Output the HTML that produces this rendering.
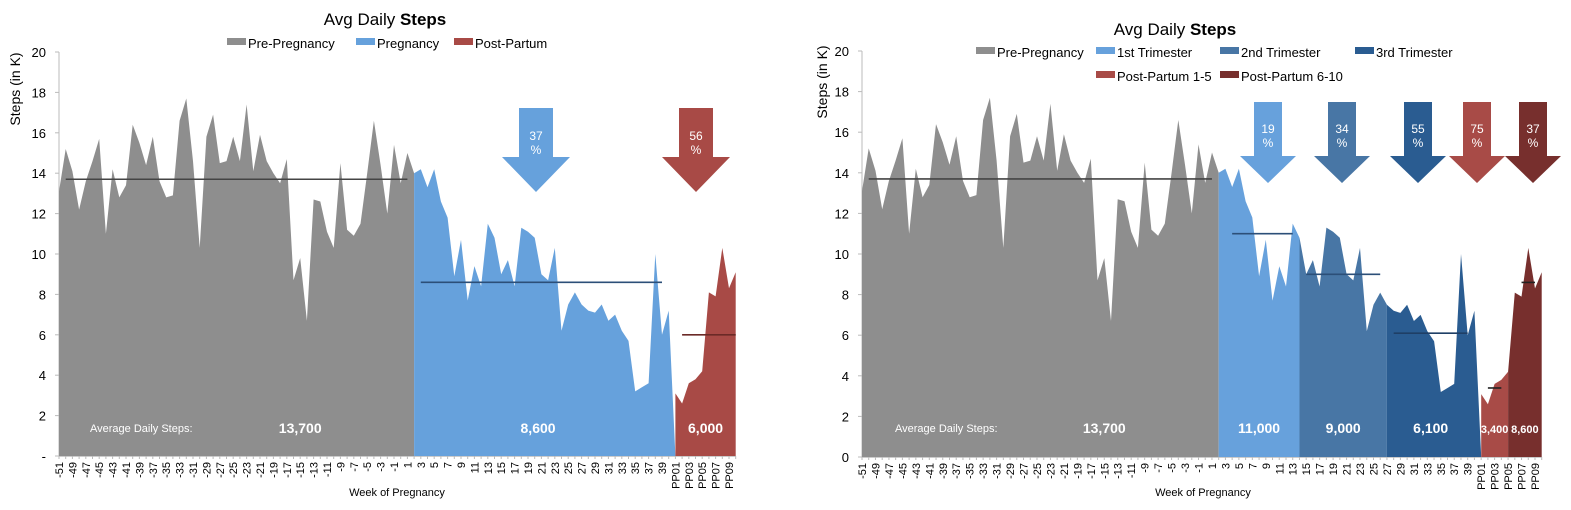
<!DOCTYPE html>
<html><head><meta charset="utf-8"><style>
body{margin:0;background:#fff;}
svg{display:block;font-family:"Liberation Sans",Arial,sans-serif;}
</style></head><body>
<svg id="c" width="1571" height="510" viewBox="0 0 1571 510" xmlns="http://www.w3.org/2000/svg"></svg>
<script>
// ---- data ----
const categories = [];
for (let w = -51; w <= 0; w++) categories.push(String(w));
for (let w = 1; w <= 40; w++) categories.push(String(w));
for (let p = 1; p <= 10; p++) categories.push('PP' + (p < 10 ? '0' + p : p));
const steps = [
 13.1,15.2,14.1,12.2,13.6,14.6,15.7,11.0,14.2,12.8,
 13.4,16.4,15.5,14.4,15.8,13.6,12.8,12.9,16.6,17.7,
 14.6,10.3,15.8,16.9,14.5,14.6,15.8,14.6,17.4,14.1,
 15.9,14.6,14.0,13.5,14.7,8.7,9.8,6.7,12.7,12.6,
 11.1,10.3,14.5,11.2,10.9,11.5,14.0,16.6,14.4,12.0,
 15.4,13.5,15.0,14.0,
 14.2,13.3,14.2,12.6,11.8,8.9,10.7,7.7,9.4,8.4,
 11.5,10.8,9.0,9.7,8.4,11.3,11.1,10.8,9.0,8.7,
 10.3,6.2,7.5,8.1,7.5,7.2,7.1,7.5,6.7,7.0,
 6.2,5.7,3.2,3.4,3.6,10.0,6.0,7.2,
 3.1,2.6,3.6,3.8,4.2,8.1,7.9,10.3,8.3,9.1
];
const yTicks = [0,2,4,6,8,10,12,14,16,18,20];
const leftNames = ['Pre-Pregnancy','Pregnancy','Post-Partum'];
const leftAvgs = [13.7, 8.6, 6.0];
const leftDrops = [37, 56];
const rightNames = ['Pre-Pregnancy','1st Trimester','2nd Trimester','3rd Trimester','Post-Partum 1-5','Post-Partum 6-10'];
const rightAvgs = [13.7, 11.0, 9.0, 6.1, 3.4, 8.6];
const rightDrops = [19, 34, 55, 75, 37];

// ---- layout ----
const svg = document.getElementById('c');
const NS = 'http://www.w3.org/2000/svg';
function mk(tag, attrs, parent, text) {
  const e = document.createElementNS(NS, tag);
  for (const k in attrs) e.setAttribute(k, attrs[k]);
  if (text !== undefined) e.textContent = text;
  (parent || svg).appendChild(e);
  return e;
}
function fmt(v){ return Math.round(v*1000).toLocaleString('en-US'); }

function chart(cfg) {
  const g = mk('g', {});
  
  
  const x = i => cfg.x0 + i * cfg.step;
  const y = v => cfg.yBase - v * (cfg.yBase - cfg.yTop) / 20;
  // title
  const t = mk('text', {x: cfg.titleX, y: cfg.titleY, 'font-size': 17, 'text-anchor': 'middle', fill: '#000'}, g);
  
  
  mk('tspan', {}, t, 'Avg Daily ');
  mk('tspan', {'font-weight': 'bold'}, t, 'Steps');
  // legend
  cfg.legend.forEach((L, k) => {
    const lg = mk('g', {}, g);
    
    
    mk('rect', {x: L.x, y: L.y - 10, width: 19, height: 7, fill: cfg.colors[k]}, lg);
    mk('text', {x: L.x + 21, y: L.y, 'font-size': 13, fill: '#000'}, lg, cfg.names[k]);
  });
  // y axis
  const ya = mk('g', {}, g);
  
  
  mk('line', {x1: cfg.axisX, y1: y(20), x2: cfg.axisX, y2: y(0), stroke: '#bbb'}, ya);
  yTicks.forEach(v => {
    mk('line', {x1: cfg.axisX - 4, y1: y(v), x2: cfg.axisX, y2: y(v), stroke: '#bbb'}, ya);
    const lab = (v === 0 && cfg.zeroDash) ? '-' : String(v);
    const tl = mk('text', {x: cfg.axisX - 13, y: y(v) + 5, 'font-size': 13, 'text-anchor': 'end', fill: '#000'}, ya, lab);
    
    
  });
  const yt = mk('text', {x: 0, y: 0, 'font-size': 14, 'text-anchor': 'middle', transform: `translate(${cfg.yTitleX},${cfg.yTitleY}) rotate(-90)`}, g, 'Steps (in K)');
  
  
  // areas
  cfg.segs.forEach((s, k) => {
    let pts = [[x(s[0]), y(0)]];
    for (let i = s[0]; i <= s[1]; i++) pts.push([x(i), y(steps[i])]);
    pts.push([s[2] ? x(s[1] + 1) : x(s[1]), y(0)]);
    const p = mk('polygon', {points: pts.map(q => q[0].toFixed(1) + ',' + q[1].toFixed(1)).join(' '), fill: cfg.colors[k]}, g);
    
    
  });
  // avg lines
  cfg.avgSpans.forEach((sp, k) => {
    const l = mk('line', {x1: x(sp[0]), y1: y(cfg.avgs[k]), x2: x(sp[1]), y2: y(cfg.avgs[k]), stroke: cfg.avgColors[k], 'stroke-width': 1.6}, g);
    
    
  });
  // avg labels
  const al = mk('text', {x: cfg.avgLabelX, y: 432, 'font-size': 11, fill: '#fff'}, g, 'Average Daily Steps:');
  
  
  cfg.avgLabelPos.forEach((p, k) => {
    const tv = mk('text', {x: x(p), y: 433, 'font-size': cfg.avgFont[k], 'font-weight': 'bold', 'text-anchor': 'middle', fill: '#fff'}, g, fmt(cfg.avgs[k]));
    
    
  });
  // arrows
  cfg.arrows.forEach((a, k) => {
    const ag = mk('g', {}, g);
    
    
    const hw = a.sw / 2, hh = a.hw / 2;
    const d = `M${a.cx-hw},${a.top} L${a.cx+hw},${a.top} L${a.cx+hw},${a.hy} L${a.cx+hh},${a.hy} L${a.cx},${a.tip} L${a.cx-hh},${a.hy} L${a.cx-hw},${a.hy} Z`;
    mk('path', {d, fill: a.color}, ag);
    mk('text', {x: a.cx, y: a.ty, 'font-size': 12, 'text-anchor': 'middle', fill: '#fff'}, ag, String(cfg.drops[k]));
    mk('text', {x: a.cx, y: a.ty + 14, 'font-size': 12, 'text-anchor': 'middle', fill: '#fff'}, ag, '%');
  });
  // x axis
  const xa = mk('g', {}, g);
  
  
  mk('line', {x1: x(0), y1: y(0) + 0.5, x2: x(categories.length - 1), y2: y(0) + 0.5, stroke: '#ccc'}, xa);
  categories.forEach((c, i) => {
    mk('line', {x1: x(i), y1: y(0), x2: x(i), y2: y(0) + 3, stroke: '#bbb'}, xa);
    if (i % 2 === 0) {
      const tl = mk('text', {x: 0, y: 0, 'font-size': 11, 'text-anchor': 'end', transform: `translate(${(x(i) + 4).toFixed(1)},${y(0) + 6}) rotate(-90)`, fill: '#000'}, xa, c);
      
      
    }
  });
  const xt = mk('text', {x: cfg.xTitleX, y: 496, 'font-size': 11, 'text-anchor': 'middle', fill: '#000'}, g, 'Week of Pregnancy');
  
  
}

chart({
  name: 'left-chart', x0: 59, step: 6.70, yTop: 52, yBase: 456, axisX: 59, zeroDash: true,
  titleX: 385, titleY: 25, yTitleX: 20, yTitleY: 89, xTitleX: 397,
  names: leftNames, colors: ['#8e8e8e', '#66a1dc', '#a84a46'],
  legend: [{x: 227, y: 48}, {x: 356, y: 48}, {x: 454, y: 48}],
  segs: [[0, 53, false], [53, 91, true], [92, 101, false]],
  avgs: leftAvgs, avgSpans: [[1, 52], [54, 90], [93, 101]],
  avgColors: ['#444', '#2c4f78', '#6b2a27'],
  avgLabelX: 90, avgLabelPos: [36, 71.5, 96.5], avgFont: [14, 14, 14],
  drops: leftDrops,
  arrows: [
    {cx: 536, top: 108, hy: 157, tip: 192, sw: 34, hw: 68, color: '#66a1dc', ty: 140},
    {cx: 696, top: 108, hy: 157, tip: 192, sw: 34, hw: 68, color: '#a84a46', ty: 140}
  ]
});
chart({
  name: 'right-chart', x0: 862, step: 6.73, yTop: 51, yBase: 457, axisX: 862, zeroDash: false,
  titleX: 1175, titleY: 35, yTitleX: 827, yTitleY: 82, xTitleX: 1203,
  names: rightNames, colors: ['#8e8e8e', '#67a1dc', '#4876a5', '#2a5c91', '#a84b47', '#772f2d'],
  legend: [{x: 976, y: 57}, {x: 1096, y: 57}, {x: 1220, y: 57}, {x: 1355, y: 57}, {x: 1096, y: 81}, {x: 1220, y: 81}],
  segs: [[0, 53, false], [53, 65, false], [65, 78, false], [78, 91, true], [92, 96, false], [96, 101, false]],
  avgs: rightAvgs, avgSpans: [[1, 52], [55, 64], [66, 77], [79, 90], [93, 95], [98, 100]],
  avgColors: ['#444', '#2c4f78', '#2c4f78', '#1f3f66', '#222', '#222'],
  avgLabelX: 895, avgLabelPos: [36, 59, 71.5, 84.5, 94, 98.5], avgFont: [14, 14, 14, 14, 11, 11],
  drops: rightDrops,
  arrows: [
    {cx: 1268, top: 102, hy: 156, tip: 183, sw: 28, hw: 56, color: '#67a1dc', ty: 133},
    {cx: 1342, top: 102, hy: 156, tip: 183, sw: 28, hw: 56, color: '#4876a5', ty: 133},
    {cx: 1418, top: 102, hy: 156, tip: 183, sw: 28, hw: 56, color: '#2a5c91', ty: 133},
    {cx: 1477, top: 102, hy: 156, tip: 183, sw: 28, hw: 56, color: '#a84b47', ty: 133},
    {cx: 1533, top: 102, hy: 156, tip: 183, sw: 28, hw: 56, color: '#772f2d', ty: 133}
  ]
});
</script>
</body></html>
